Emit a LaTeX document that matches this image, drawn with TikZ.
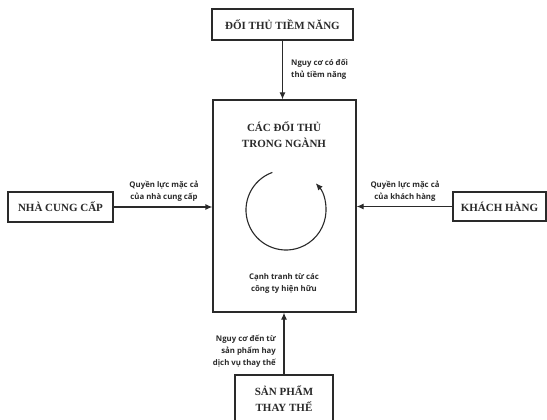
\documentclass[tikz,border=0pt]{standalone}
\usepackage{fontspec}
\setmainfont{Liberation Serif}
\newfontfamily\lblfont{Open Sans}
\usetikzlibrary{arrows.meta}
\definecolor{ln}{HTML}{2a2a2a}
\begin{document}
\begin{tikzpicture}[x=1pt,y=-1pt,
  box/.style={draw=ln,line width=1.2pt,fill=white,inner sep=0pt,font=\bfseries\fontsize{11}{13}\selectfont,align=center,text=ln},
  lbl/.style={font=\lblfont\bfseries\fontsize{7.8}{12}\selectfont,inner sep=0pt,text=ln},
  arr/.style={draw=ln,line width=1.2pt,-{Latex[length=7pt,width=6pt]}}]
\useasboundingbox (0,0) rectangle (547,420);
\node[box,minimum width=141pt,minimum height=31pt] (top) at (282.5,24.5) {ĐỐI THỦ TIỀM NĂNG};
\node[box,minimum width=143pt,minimum height=212pt] (mid) at (284.5,206) {};
\node[box,minimum width=105pt,minimum height=30pt] (left) at (60.5,207) {NHÀ CUNG CẤP};
\node[box,minimum width=93pt,minimum height=29pt] (right) at (499.5,206.5) {KHÁCH HÀNG};
\node[box,minimum width=98pt,minimum height=48pt] (bot) at (284,399) {};
\node[font=\bfseries\fontsize{11}{16}\selectfont,align=center,text=ln] (bottxt) at (284,399) {SẢN PHẨM\\THAY THẾ};
\node[font=\bfseries\fontsize{11}{16}\selectfont,align=center,text=ln] (midtitle) at (284,135) {CÁC ĐỐI THỦ\\TRONG NGÀNH};
\draw[arr] (top.south) -- (top.south |- mid.north);
\draw[arr] (left.east) -- (left.east -| mid.west);
\draw[arr] (right.west) -- (right.west -| mid.east);
\draw[arr] (bot.north) -- (bot.north |- mid.south);
\node[lbl,align=left,anchor=west] (l1) at (291,69) {Nguy cơ có đối\\thủ tiềm năng};
\node[lbl,align=center] (l2) at (164,191) {Quyền lực mặc cả\\của nhà cung cấp};
\node[lbl,align=center] (l3) at (405,191) {Quyền lực mặc cả\\của khách hàng};
\node[lbl,align=right,anchor=east] (l4) at (276,351) {Nguy cơ đến từ\\sản phẩm hay\\dịch vụ thay thế};
\node[lbl,align=center] (l5) at (284,283) {Cạnh tranh từ các\\công ty hiện hữu};
\coordinate (cc) at (286,210);
\draw[draw=ln,line width=1.1pt,-{Latex[length=7pt,width=6pt]}] ([shift={(110:40pt)}]cc) arc[start angle=110,end angle=402,radius=40pt];
\end{tikzpicture}
\end{document}
